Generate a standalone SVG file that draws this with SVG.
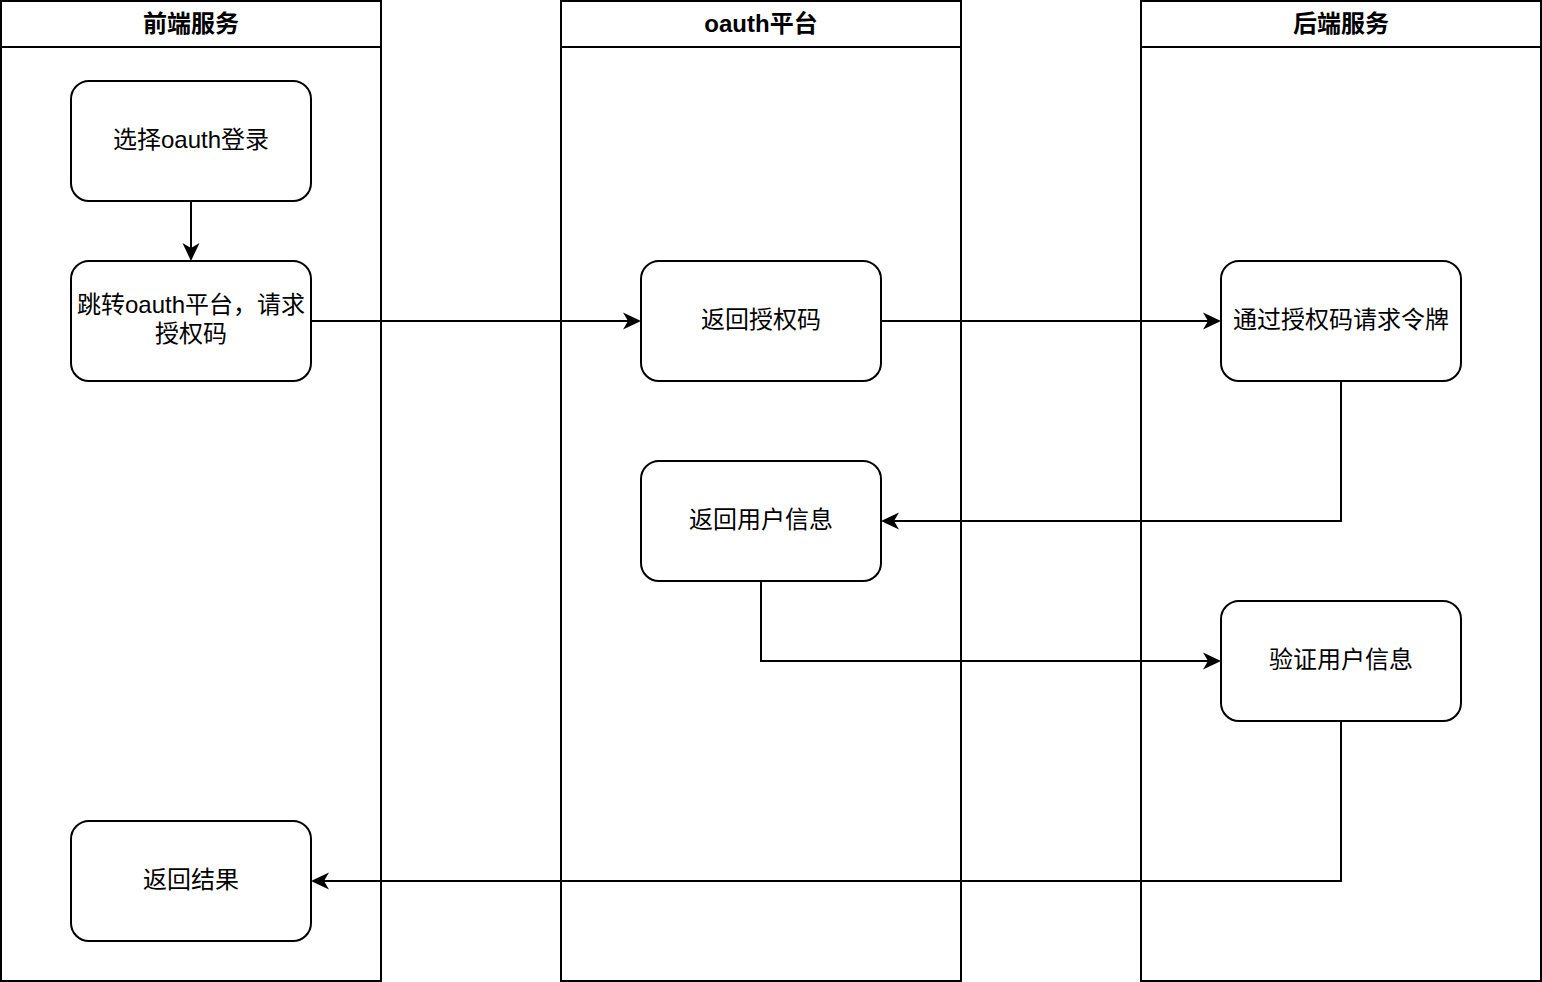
<svg xmlns="http://www.w3.org/2000/svg" width="1542" height="982" viewBox="0 0 1542 982">
<style>
.lane{fill:#fff;stroke:#000;stroke-width:2}
.node{fill:#fff;stroke:#000;stroke-width:2}
.title{font-family:"Liberation Sans","Noto Sans CJK SC",sans-serif;font-size:24px;font-weight:bold;text-anchor:middle;fill:#000}
.lbl{font-family:"Liberation Sans","Noto Sans CJK SC",sans-serif;font-size:24px;text-anchor:middle;fill:#000}
.edge{fill:none;stroke:#000;stroke-width:2}
</style>
<defs>
<marker id="arr" viewBox="0 0 20 18" refX="5" refY="9" markerWidth="20" markerHeight="18" markerUnits="userSpaceOnUse" orient="auto">
<path d="M0,0.5 L18,9 L0,17.5 L5,9 Z" fill="#000"/>
</marker>
</defs>
<rect width="1542" height="982" fill="#fff"/>
<g id="lane-frontend">
<rect class="lane" x="1" y="1" width="380" height="980"/>
<line x1="1" y1="47" x2="381" y2="47" stroke="#000" stroke-width="2"/>
<text class="title" x="191" y="32">前端服务</text>
</g>
<g id="lane-oauth">
<rect class="lane" x="561" y="1" width="400" height="980"/>
<line x1="561" y1="47" x2="961" y2="47" stroke="#000" stroke-width="2"/>
<text class="title" x="761" y="32">oauth平台</text>
</g>
<g id="lane-backend">
<rect class="lane" x="1141" y="1" width="400" height="980"/>
<line x1="1141" y1="47" x2="1541" y2="47" stroke="#000" stroke-width="2"/>
<text class="title" x="1341" y="32">后端服务</text>
</g>
<g id="connectors">
<path class="edge" d="M191,201 L191,248" marker-end="url(#arr)"/>
<path class="edge" d="M311,321 L628,321" marker-end="url(#arr)"/>
<path class="edge" d="M881,321 L1208,321" marker-end="url(#arr)"/>
<path class="edge" d="M1341,381 L1341,521 L894,521" marker-end="url(#arr)"/>
<path class="edge" d="M761,581 L761,661 L1208,661" marker-end="url(#arr)"/>
<path class="edge" d="M1341,721 L1341,881 L324,881" marker-end="url(#arr)"/>
</g>
<g id="n1">
<rect class="node" x="71" y="81" width="240" height="120" rx="18"/>
<text class="lbl" x="191" y="148">选择oauth登录</text>
</g>
<g id="n2">
<rect class="node" x="71" y="261" width="240" height="120" rx="18"/>
<text class="lbl" x="191" y="313">跳转oauth平台，请求</text>
<text class="lbl" x="191" y="342">授权码</text>
</g>
<g id="n3">
<rect class="node" x="71" y="821" width="240" height="120" rx="18"/>
<text class="lbl" x="191" y="888">返回结果</text>
</g>
<g id="n4">
<rect class="node" x="641" y="261" width="240" height="120" rx="18"/>
<text class="lbl" x="761" y="328">返回授权码</text>
</g>
<g id="n5">
<rect class="node" x="641" y="461" width="240" height="120" rx="18"/>
<text class="lbl" x="761" y="528">返回用户信息</text>
</g>
<g id="n6">
<rect class="node" x="1221" y="261" width="240" height="120" rx="18"/>
<text class="lbl" x="1341" y="328">通过授权码请求令牌</text>
</g>
<g id="n7">
<rect class="node" x="1221" y="601" width="240" height="120" rx="18"/>
<text class="lbl" x="1341" y="668">验证用户信息</text>
</g>
</svg>
